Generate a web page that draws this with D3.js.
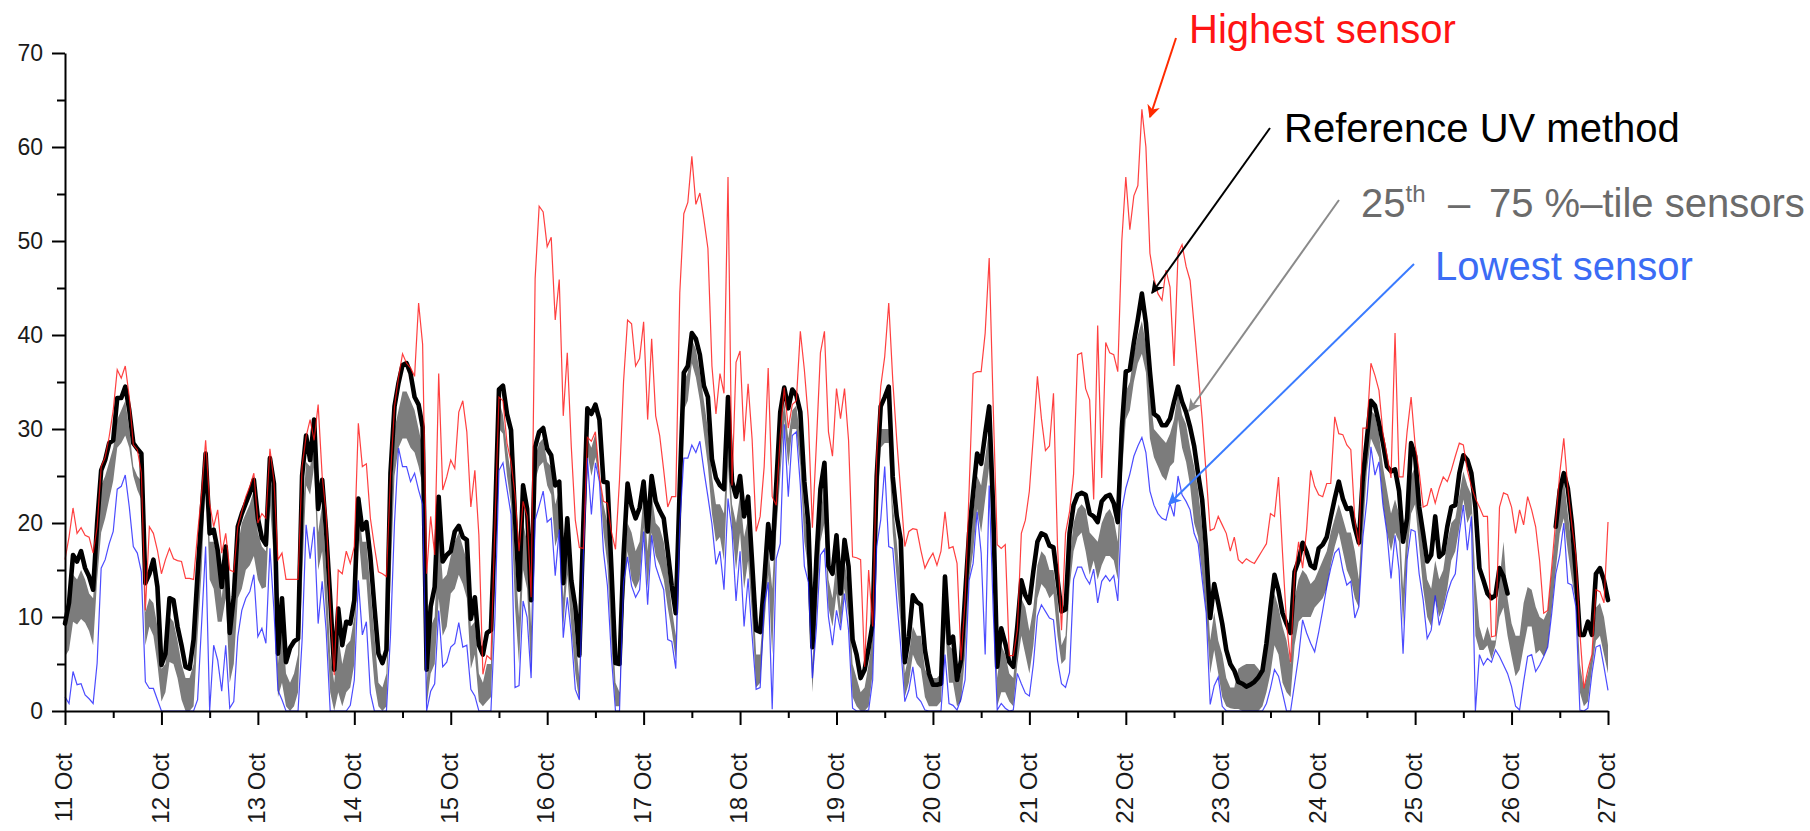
<!DOCTYPE html>
<html>
<head>
<meta charset="utf-8">
<script src="https://cdn.jsdelivr.net/npm/d3@7"></script>
<style>
  html, body { margin: 0; padding: 0; background: #fff; }
  svg { display: block; }
</style>
</head>
<body>
<svg id="chart" width="1810" height="831"></svg>
<script>
// Hourly UV readings, 11 Oct 00:00 to 27 Oct 00:00 (one row per day).
const dayLabels = ["11 Oct","12 Oct","13 Oct","14 Oct","15 Oct","16 Oct","17 Oct","18 Oct",
                   "19 Oct","20 Oct","21 Oct","22 Oct","23 Oct","24 Oct","25 Oct","26 Oct","27 Oct"];
const yTickLabels = [0, 10, 20, 30, 40, 50, 60, 70];
const yMinorTicks = [5, 15, 25, 35, 45, 55, 65];

// Reference UV method
const referenceUV = [
  9.3, 11.5, 16.6, 15.9, 17, 15.2, 14.3, 12.9, 20, 25.6, 26.7, 28.5, 28.8, 33.3, 33.3, 34.5, 32, 28.5, 27.9, 27.4, 13.6, 14.6, 16.1, 13.2,
  4.9, 6.1, 12, 11.8, 9, 7, 4.7, 4.5, 7.6, 14.6, 21, 27.4, 18.9, 19.3, 17.1, 13.2, 17.5, 8.3, 12.2, 19.6, 21, 22.1, 23.2, 24.6,
  20.5, 18.4, 17.7, 26.9, 24.2, 6.1, 12, 5.2, 6.7, 7.4, 7.7, 25, 29.3, 26.7, 31, 21.5, 24.6, 19, 12, 4.4, 10.9, 7, 9.5, 9.3,
  11.8, 22.6, 19.3, 20.1, 16.4, 11.1, 6.1, 5.1, 6.5, 25.3, 32.4, 34.9, 36.8, 37, 35.9, 33.4, 32.6, 30.2, 4.4, 11.1, 13.2, 22.8, 15.9, 16.6,
  17, 19.1, 19.7, 18.5, 18.2, 9.8, 12.1, 7, 6, 8.3, 8.6, 20, 34.2, 34.6, 31.6, 29.9, 20.5, 12.9, 24, 21.5, 11.8, 28.1, 29.7, 30.1,
  27.9, 27.2, 24, 24.4, 13.6, 20.5, 13.9, 11.1, 5.9, 19.9, 32.2, 31.6, 32.6, 31, 24.4, 24.3, 15, 5.1, 5, 16.6, 24.2, 21.8, 20.5, 21.6,
  24.4, 19.1, 25, 22.3, 21.3, 20.5, 17, 13.3, 10.4, 24, 36, 36.7, 40.2, 39.6, 37.9, 34.6, 33.4, 26.8, 24.8, 24, 23.6, 33.4, 24.4, 22.8,
  25, 20.7, 22.8, 15.8, 8.6, 8.4, 13.7, 19.9, 16.2, 24, 31.8, 34.4, 32.2, 34.2, 33.6, 31.8, 24.4, 19.9, 6.8, 16.2, 23.6, 26.4, 15.4, 14.6,
  18.7, 12.5, 18.2, 15.4, 7.6, 6, 3.5, 4.4, 6.7, 9.3, 24.9, 32.4, 33.4, 34.5, 24.9, 20.7, 18.2, 5.2, 7.9, 12.3, 11.6, 11.3, 6.5, 4,
  2.8, 2.8, 2.9, 14.3, 7.2, 7.9, 3.3, 5.4, 12.2, 18.9, 23.2, 27.4, 26.3, 29.5, 32.4, 21.4, 4.7, 8.8, 7.2, 5.2, 4.7, 9, 13.9, 12.3,
  11.5, 14.9, 18, 18.9, 18.7, 17.6, 17.4, 14, 10.6, 10.8, 18.9, 21.9, 23, 23.2, 23, 21, 20.7, 20.1, 22.3, 22.8, 23, 22.1, 20.1, 30,
  36.1, 36.3, 39.2, 41.7, 44.4, 41.3, 36.1, 31.6, 31.3, 30.4, 30.4, 31.1, 32.9, 34.5, 32.9, 31.8, 30.2, 28.2, 25.2, 22.5, 17.1, 9.9, 13.5, 11.5,
  9.3, 6.5, 5, 4.3, 3.1, 2.9, 2.6, 2.8, 3.1, 3.6, 4.3, 7.2, 11, 14.5, 12.8, 10.4, 9.3, 8.3, 14.8, 16, 17.9, 16.9, 15.5, 15.2,
  17.3, 17.7, 18.5, 20.6, 22.6, 24.4, 22.6, 21.5, 21.6, 19.5, 17.9, 24.9, 29, 33, 32.5, 30.6, 28.5, 26, 25.5, 25.7, 23.4, 18, 20.5, 28.5,
  27.1, 21.7, 18.9, 15.9, 16.6, 20.7, 16.4, 16.8, 19.6, 21.7, 21.9, 25.3, 27.2, 26.7, 25.3, 21.7, 15.2, 13.9, 12.5, 12, 12.3, 15.2, 14.3, 12.5,
  null, null, null, null, null, null, null, null, null, null, null, 19.6, 23.5, 25.3, 23.7, 20, 14.6, 8.1, 8.1, 9.5, 8.1, 14.6, 15.2, 13.9,
  11.8
];

// Highest sensor
const highestSensor = [
  16.1, 18.5, 21.6, 18.9, 19.5, 18.7, 18.5, 16.8, 19.6, 26, 27, 29.2, 32, 36.3, 35.4, 36.7, 33.4, 28.3, 27.8, 25.3, 10.7, 19.6, 18.9, 17.1,
  14.6, 16.1, 17.3, 16.2, 16, 15.9, 14.1, 14.1, 14, 18.9, 23.2, 28.8, 22.1, 19.6, 21.4, 16.8, 18.9, 15, 14.8, 19.6, 21.2, 22.8, 23.9, 25.3,
  20, 21, 20.5, 27.9, 24.5, 16.1, 16.8, 14, 14, 14, 14, 26, 29.2, 31, 28.8, 32.6, 25, 21, 11, 3.8, 15, 14.6, 17, 15.7,
  17.5, 30.6, 26, 26.3, 20.5, 17.5, 14.8, 14.6, 14.3, 25, 32.4, 35.5, 38, 37, 36.5, 35.6, 43.4, 39, 14.6, 20.7, 16.6, 35.9, 23.5, 24.9,
  26.7, 25.8, 31.8, 33, 29.7, 21.7, 25.6, 18.7, 3.9, 5.9, 5.5, 20, 33.4, 33, 28.5, 26.5, 23, 17, 22.3, 20.7, 12.1, 46, 53.7, 53.1,
  49.4, 50.4, 41.6, 45.9, 31.4, 38.1, 28.1, 20.3, 17.4, 17.3, 29.1, 28.7, 29.7, 25, 22.3, 22.1, 19, 17.2, 24.6, 35, 41.6, 41.2, 36.7, 37.5,
  41.4, 31, 39.6, 31.4, 29.3, 25.6, 21.7, 22.8, 22.8, 44.5, 52.9, 54.1, 59, 53.9, 55.1, 52.3, 49.2, 36.7, 31.6, 35.9, 33.8, 56.8, 24, 37.1,
  38.3, 28.7, 34.8, 28.9, 19.1, 20.7, 26, 36.5, 22.8, 21.9, 29.3, 34.4, 30.1, 32.6, 33, 40.4, 36.3, 31, 19.5, 28.5, 38.1, 40.4, 29.7, 27.1,
  34.3, 31.1, 34.3, 28.8, 16.4, 16.3, 16.1, 4.7, 15, 9, 27.1, 34.5, 37.7, 43.4, 35.2, 28.8, 23.2, 17.5, 19.1, 19.4, 19.3, 17.1, 15.2, 16.1,
  16.8, 15.5, 17, 21.2, 17.3, 17.5, 15.7, 5.4, 11.8, 23.5, 35.9, 36.1, 36.1, 40.2, 48.2, 32.4, 17.7, 17.3, 17.7, 5.9, 5.9, 8.6, 18.9, 20.3,
  23.4, 29.3, 35.6, 31.1, 27.7, 28.2, 33.8, 17.6, 8.6, 18.9, 21.2, 25.2, 37.9, 38.1, 34.3, 33.1, 22.5, 41, 24.8, 39.2, 38.1, 37.9, 36.1, 50,
  56.8, 51.2, 54.8, 55.9, 64, 60, 48.7, 46, 44.4, 43.7, 46.9, 45.1, 36.7, 48.7, 49.6, 47.3, 45.8, 41, 36.1, 31.1, 25.2, 19.2, 19.4, 20.7,
  19.8, 18.9, 17, 18.5, 16.1, 15.7, 16.2, 15.9, 15.7, 16.4, 17.1, 17.8, 21, 20.7, 24.9, 16.8, 9.3, 5.2, 14.6, 18, 15.2, 19.3, 25.6, 23.9,
  23, 22.8, 24.2, 24.2, 31.3, 29.5, 29.4, 28.3, 27.8, 20.3, 17.5, 30.1, 30.1, 37, 35.7, 34.1, 29.5, 27.2, 24.8, 40.2, 24.9, 24.9, 29.7, 33.4,
  28.3, 25.5, 21.7, 21.9, 23.7, 22.1, 23.7, 24.9, 24.4, 25.6, 27.1, 28.5, 28.3, 25.6, 23.9, 22.6, 21.7, 20.7, 20.7, 7.9, 8, 21.7, 23.2, 23,
  21.7, 18.9, 21.4, 19.8, 22.8, 21.4, 19.6, 15.9, 10.4, 10.7, 15.4, 20.3, 25.3, 29, 23.7, 19.8, 16.6, 8.3, 2.4, 4.4, 6, 12.9, 12.7, 11.5,
  20.1
];

// Lowest sensor
const lowestSensor = [
  1.5, 0.8, 4.2, 2.8, 2.9, 1.7, 1.3, 0.8, 5.1, 15.2, 16.1, 17.8, 19.1, 23.6, 23.9, 25.1, 21.7, 17.5, 16.8, 14.8, 3.1, 2.4, 2.4, 1.2,
  0, 0, 0, 0, 0, 0, 0, 0, 0, 1.2, 9.3, 17.5, 0, 7, 5.4, 2.1, 7, 0.3, 1, 7.9, 10.7, 12, 12.7, 14.5,
  7.9, 8.8, 7.2, 17.3, 10.7, 2.2, 1.2, 0, 0, 0, 0, 7.5, 19.8, 16.2, 19.6, 9.3, 13.8, 8.5, 0, 0, 0, 0, 0, 0.6,
  3.3, 13.9, 8.1, 9.5, 1.9, 0, 0, 0, 0, 8, 20, 28, 26, 26, 24.4, 25.3, 23.5, 22, 0, 2.1, 2.9, 10.7, 4.7, 5.2,
  6.8, 7.2, 9.4, 6.8, 7, 2.3, 1.6, 0, 0, 0, 0, 10, 25.6, 26.4, 23.6, 20.9, 2.5, 2.7, 11.7, 10, 3.5, 20.3, 21.8, 23.4,
  20.1, 20.5, 14.4, 19.3, 7.8, 12.1, 8.2, 2.3, 1.2, 16.6, 26.9, 20.9, 26.4, 24.4, 17, 13.3, 5.7, 0, 0, 13.7, 16.4, 13.3, 12.1, 12.9,
  19.1, 11.3, 18.7, 15.4, 14.1, 12.9, 7.6, 7.4, 4.5, 19.9, 26.9, 26.9, 28.3, 27.5, 28.7, 25.6, 22.8, 19.9, 15.6, 17, 12.9, 22.6, 19.1, 11.7,
  17, 9, 14.1, 8, 2.3, 2.5, 11.3, 13.7, 0.2, 16.2, 17.8, 30.5, 22.8, 29.3, 29.7, 24, 15.4, 13.7, 3.5, 8.8, 16.6, 17.2, 10, 7,
  10.7, 8.6, 12.5, 8.6, 0.3, 0, 0, 0, 0.1, 3.3, 17.5, 20.3, 26, 17.5, 17.3, 11.8, 6.8, 1, 2.2, 4.7, 1.5, 1, 0.1, 0,
  0, 0, 0, 6, 0.8, 0.6, 0.1, 1.3, 3.3, 13.9, 15.7, 21.2, 16.8, 6, 24, 10.7, 0.1, 0.8, 0.3, 0, 0.1, 4, 2.9, 1.9,
  1.6, 5, 10.1, 11.3, 10.6, 9.9, 9.7, 5.4, 2.9, 2.5, 4.1, 14, 15.3, 15.3, 14.2, 13.5, 15.1, 11.5, 13.8, 14.4, 13.8, 14.4, 11.7, 21.4,
  23.7, 25.2, 27.1, 28.2, 29.1, 27.5, 23.4, 21.9, 21, 20.5, 20.3, 22.1, 20.7, 25, 23, 22.3, 21.4, 18.9, 17.8, 14, 10.4, 0.7, 2.7, 3.6,
  0.5, 0, 0, 0, 0, 0, 0, 0, 0, 0, 0, 0.8, 2.4, 4.4, 3.7, 1.9, 0, 0, 2.9, 5.8, 9.7, 8.3, 7.2, 6.3,
  8.4, 10.7, 13.2, 15.2, 16.8, 17.3, 15, 13.4, 13.8, 9.9, 11.1, 18.5, 22.4, 28.1, 25.1, 26.5, 21.9, 18.9, 14.1, 18.7, 15, 6.1, 16.1, 19.3,
  19.1, 14.6, 11.8, 7.7, 8.6, 12.3, 9.1, 10.7, 12.5, 13.8, 14.6, 18.9, 21.9, 17.1, 20.7, 0, 6, 4.9, 5.6, 5.2, 6.5, 5.8, 4.9, 4,
  2.6, 0.5, 0.1, 3.1, 5.8, 6, 4.2, 4.9, 5.8, 6.8, 10.4, 14.6, 16.6, 20, 13.6, 13.4, 11.1, 0.1, 0, 0.3, 4, 6.8, 7, 4.7,
  2.2
];

// 75th percentile of sensors
const pct75 = [
  9.5, 11, 14.5, 14, 15, 14, 12.5, 12, 18, 24, 25, 26.5, 28, 31, 32, 33, 30, 26, 25, 24.5, 10.5, 12, 11.5, 9,
  4.5, 5, 10, 9.5, 7.5, 5, 3.5, 3.5, 5, 13, 20, 27, 18, 18, 16.5, 12, 16.5, 8, 11.5, 17.5, 20, 21, 22, 23.5,
  19, 17.5, 17, 26, 22, 5, 10, 4, 3, 4, 6, 20, 26.5, 26, 28.5, 19, 22, 15, 6, 3, 8, 5, 7, 7.5,
  10, 22, 18, 18, 13, 8, 3, 2.5, 4, 20, 30, 32, 34, 34, 33, 32, 30, 28, 3, 9, 10, 20, 14, 14.5,
  16.5, 18, 19, 17.5, 16, 9, 9.5, 4, 3, 5, 5, 17, 33, 31.5, 28, 25, 16, 10, 20, 18, 9, 27, 28.5, 29,
  26.5, 26, 22, 23.5, 12, 18, 13, 8, 3.5, 19, 29, 28, 29.5, 25, 22, 20, 11, 3, 2, 15, 20, 19, 17, 18,
  23, 17, 23, 20, 19.5, 18, 15, 11, 8, 22, 35, 36, 39.5, 38.5, 36, 33, 30, 25, 22, 22, 21, 30, 22, 20,
  23, 18.5, 20.5, 14, 6, 6, 12, 17.5, 13, 21.5, 29, 33, 29, 32, 32.5, 29, 21.5, 18, 5, 13, 21, 24, 14, 12,
  16, 11, 16, 13, 5, 3.5, 2, 2.5, 5, 8, 22, 30, 30, 30, 22, 18, 13, 4, 6, 9, 8, 8, 4.5, 3.5,
  3.5, 3.5, 4, 13, 7, 6.5, 3, 4, 10, 17.5, 21, 25, 24, 27, 30, 19, 3.5, 7, 6, 4, 3.5, 8, 12, 11,
  8.5, 11, 15.5, 17, 16.5, 15, 15, 12, 7, 8, 16, 20, 21.5, 22, 21.5, 19, 18.5, 18, 20, 21, 21.5, 20.5, 18, 27,
  34, 35, 38, 40, 41.5, 39, 34, 30, 29.5, 29, 28.5, 29.5, 31, 34, 31.5, 30.5, 28, 26, 23.5, 19.5, 14.5, 7.5, 10.5, 7.5,
  6, 3.5, 2.5, 2.5, 4.5, 4.8, 5, 5, 5, 4.5, 4, 7, 10, 12.5, 11, 9, 7.5, 5, 12, 14, 15, 14.5, 13.5, 14,
  15, 16, 17, 19, 20.5, 22, 20.5, 19, 19, 17, 14, 22, 28, 32, 31.5, 29.5, 26, 23.5, 21, 22.5, 21, 13, 20, 25,
  26, 21, 17.5, 14, 13, 16, 14, 15, 18, 20, 20.5, 23, 25.5, 24, 23, 14, 9, 7.5, 9, 7.5, 7.5, 14, 18, 12,
  9.3, 8, 8, 11.5, 13.2, 12.9, 11.1, 10, 9.7, 10.7, 15, 19.5, 23.9, 24.8, 21, 17.5, 14, 5, 2.4, 4, 6, 11, 11.5, 10,
  7
];

// 25th percentile of sensors
const pct25 = [
  5.8, 6.5, 9.5, 9.2, 9.8, 9.4, 8.5, 7, 14, 19, 20.5, 22.5, 24.5, 28, 28.5, 29.3, 28, 25, 23.5, 22.5, 7, 9, 8, 5,
  1, 2, 5.2, 5, 3.5, 1.2, 0, 0, 0.5, 8, 15, 25, 14, 13, 9.5, 9.5, 12, 3, 5, 12, 13, 15, 15.5, 16.5,
  14, 13, 13.2, 22, 16, 1.5, 3, 0.5, 0, 0.5, 2, 14, 24, 23, 26, 15, 17, 10, 2, 0, 2, 0.5, 2, 2.5,
  5, 19, 14, 14, 8, 3, 0.5, 0, 0.5, 14, 25, 28, 29, 29, 28, 27.5, 26, 24, 0.5, 4, 5, 12, 8, 9,
  12.5, 13, 14.5, 13.5, 12, 4.5, 6, 1, 0.5, 1, 1.5, 13, 30, 29.5, 25, 22, 11, 5, 15, 13, 4, 24.5, 26, 26.5,
  24, 23, 17.5, 19, 9, 14.5, 9, 4, 1, 17, 27.5, 25, 27, 24.6, 19, 15.5, 7, 0.5, 0.5, 11, 17, 14, 13, 14,
  19.5, 13, 19, 16.5, 15.5, 14, 11, 8.5, 5.5, 20, 32, 33, 37, 35.5, 33, 29.5, 26, 21, 18, 18.5, 16, 26, 19.5, 15,
  19, 13, 16, 10, 2.5, 3, 9, 14.5, 6, 19, 25, 31, 26, 30, 30, 26, 18, 15, 2, 10, 18, 20, 11, 9,
  12.5, 9, 13, 10, 1.5, 0.5, 0, 0, 0.5, 4, 19.5, 28, 28.5, 28.5, 19, 14, 9, 1.5, 3, 6, 5, 4.5, 1.5, 0.5,
  0.5, 0.5, 1, 9, 3, 3, 0.5, 1, 6, 14, 17, 21.5, 19, 22.5, 26, 15, 0.5, 2, 2, 1, 0.5, 5, 8, 6,
  4, 7, 12, 13.5, 13, 12, 12.5, 8, 5, 5.5, 13, 17, 18.5, 19, 17, 14.5, 16, 14, 15.5, 16.5, 16.5, 16, 14, 25,
  31, 32, 35, 37, 38, 36, 29, 27, 26, 25, 24.5, 26, 26.5, 31, 28, 26.5, 24, 20, 18.5, 14.5, 10.5, 4, 6.5, 4,
  1.5, 0.5, 0.3, 0.2, 0.2, 0, 0, 0, 0, 0, 0.5, 2, 4, 7, 6, 3, 2, 1.5, 7, 9.5, 10, 10, 10, 11,
  11.5, 12, 13, 15.5, 17.5, 19, 17, 15, 14, 12, 11, 19, 25.5, 29, 28, 27, 22, 19, 17, 19, 18, 9, 16.5, 21,
  22, 17.5, 13, 10, 9, 12, 10, 11, 13, 16, 17, 19.5, 22.5, 20, 21, 8, 6.5, 6.5, 7, 5.5, 7, 10, 11, 8,
  5.8, 3.7, 4.4, 6.8, 9, 9, 6.1, 6.5, 5.8, 6.8, 10.8, 15, 18.9, 20.5, 17, 14, 11.5, 2, 0.5, 1, 4.5, 7.5, 8, 6,
  4
];

const HOURS_PER_DAY = 24;
const hourIndex = d3.range(referenceUV.length);

const svg = d3.select("#chart");
const x = d3.scaleLinear().domain([0, (dayLabels.length - 1) * HOURS_PER_DAY]).range([65, 1608]);
const y = d3.scaleLinear().domain([0, 70]).range([711, 53]);

// Interquartile band of the sensor network
svg.append("path")
  .datum(hourIndex)
  .attr("fill", "#7c7c7c")
  .attr("d", d3.area()
    .x(i => x(i))
    .y0(i => y(pct25[i]))
    .y1(i => y(pct75[i])));

// Reference instrument
svg.append("path")
  .datum(hourIndex)
  .attr("fill", "none")
  .attr("stroke", "#000")
  .attr("stroke-width", 4.6)
  .attr("stroke-linejoin", "round")
  .attr("stroke-linecap", "round")
  .attr("d", d3.line()
    .defined(i => referenceUV[i] != null)
    .x(i => x(i))
    .y(i => y(referenceUV[i])));

// Lowest and highest sensors
const thinLine = series => d3.line().x(i => x(i)).y(i => y(series[i]));
svg.append("path")
  .datum(hourIndex)
  .attr("fill", "none")
  .attr("stroke", "#1f1fff")
  .attr("stroke-opacity", 0.8)
  .attr("stroke-width", 1.2)
  .attr("d", thinLine(lowestSensor));
svg.append("path")
  .datum(hourIndex)
  .attr("fill", "none")
  .attr("stroke", "#ff1010")
  .attr("stroke-opacity", 0.8)
  .attr("stroke-width", 1.2)
  .attr("d", thinLine(highestSensor));

// Y axis
const yAxis = svg.append("g")
  .attr("transform", "translate(65,0)")
  .call(d3.axisLeft(y).tickValues(yTickLabels).tickSize(13).tickSizeOuter(0).tickPadding(9));
const yMinor = svg.append("g")
  .attr("transform", "translate(65,0)")
  .call(d3.axisLeft(y).tickValues(yMinorTicks).tickSize(8).tickSizeOuter(0).tickFormat(""));
yMinor.select(".domain").remove();

// X axis
const dayTicks = dayLabels.map((d, i) => i * HOURS_PER_DAY);
const halfDayTicks = dayLabels.slice(1).map((d, i) => i * HOURS_PER_DAY + HOURS_PER_DAY / 2);
const xAxis = svg.append("g")
  .attr("transform", "translate(0,711)")
  .call(d3.axisBottom(x).tickValues(dayTicks).tickFormat((d, i) => dayLabels[i]).tickSize(14).tickSizeOuter(0));
const xMinor = svg.append("g")
  .attr("transform", "translate(0,711)")
  .call(d3.axisBottom(x).tickValues(halfDayTicks).tickSize(7).tickSizeOuter(0).tickFormat(""));
xMinor.select(".domain").remove();

xAxis.selectAll(".tick text")
  .attr("x", 0)
  .attr("y", -2)
  .attr("dy", "0.36em")
  .attr("text-anchor", "end")
  .attr("transform", "translate(0,42) rotate(-90)");

[yAxis, yMinor, xAxis, xMinor].forEach(g => {
  g.selectAll(".domain, .tick line").attr("stroke", "#000").attr("stroke-width", 2);
  g.selectAll("text")
    .attr("fill", "#1a1a1a")
    .style("font-family", "'Liberation Sans', Arial, sans-serif");
});
yAxis.selectAll("text").style("font-size", "23px");
xAxis.selectAll("text").style("font-size", "24px");

// Annotations
const defs = svg.append("defs");
const arrowColours = { red: "#ff2a00", black: "#000000", grey: "#8a8a8a", blue: "#3a7bff" };
Object.entries(arrowColours).forEach(([name, colour]) => {
  defs.append("marker")
    .attr("id", "head-" + name)
    .attr("viewBox", "0 0 10 10")
    .attr("refX", 9).attr("refY", 5)
    .attr("markerUnits", "userSpaceOnUse")
    .attr("markerWidth", 15).attr("markerHeight", 13)
    .attr("orient", "auto")
    .append("path")
    .attr("d", "M0,0 L10,5 L0,10 L3,5 z")
    .attr("fill", colour);
});

const arrows = [
  { name: "red",   from: [1176, 38],  to: [1150, 117] },
  { name: "black", from: [1270, 128], to: [1152, 293] },
  { name: "grey",  from: [1339, 200], to: [1189, 411] },
  { name: "blue",  from: [1414, 264], to: [1169, 504] }
];
svg.append("g").selectAll("line")
  .data(arrows)
  .join("line")
  .attr("x1", d => d.from[0]).attr("y1", d => d.from[1])
  .attr("x2", d => d.to[0]).attr("y2", d => d.to[1])
  .attr("stroke", d => arrowColours[d.name])
  .attr("stroke-width", 2)
  .attr("marker-end", d => `url(#head-${d.name})`);

const labelFont = "'Liberation Sans', Arial, sans-serif";
const note = (xPos, yPos, colour, text) => svg.append("text")
  .attr("x", xPos).attr("y", yPos)
  .attr("fill", colour)
  .style("font-family", labelFont)
  .style("font-size", "40px")
  .text(text);

note(1189, 43, "#ff1414", "Highest sensor");
note(1284, 142, "#000000", "Reference UV method");
note(1435, 280, "#3b6cf5", "Lowest sensor");

const pctLabel = svg.append("text")
  .attr("x", 1361).attr("y", 217)
  .attr("fill", "#6b6b6b")
  .style("font-family", labelFont)
  .style("font-size", "40px");
pctLabel.append("tspan").text("25");
pctLabel.append("tspan").attr("dy", -15).style("font-size", "24px").text("th");
pctLabel.append("tspan").attr("x", 1448).attr("dy", 15).text("–");
pctLabel.append("tspan").attr("x", 1489).text("75 %–tile sensors");
</script>
</body>
</html>
